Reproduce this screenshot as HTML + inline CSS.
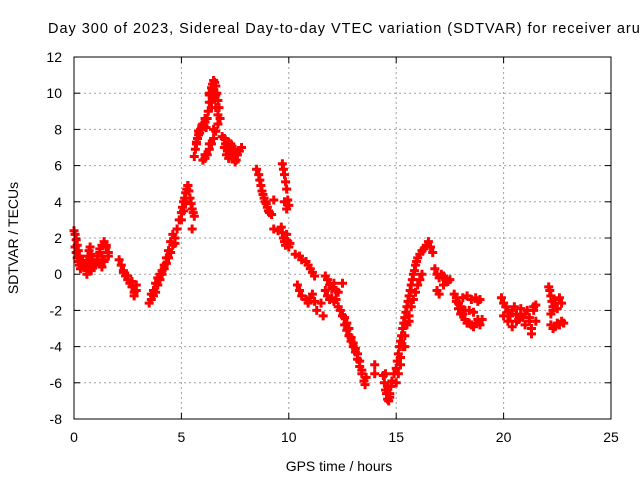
<!DOCTYPE html>
<html><head><meta charset="utf-8"><style>
html,body{margin:0;padding:0;background:#fff}
svg{display:block}
text{font-family:"Liberation Sans",sans-serif;font-size:14px;fill:#000}
</style></head><body>
<svg id="chart" width="640" height="480">
<text x="48" y="33" textLength="600" lengthAdjust="spacing" style="font-size:14.5px">Day 300 of 2023, Sidereal Day-to-day VTEC variation (SDTVAR) for receiver aruc</text>
<text x="339" y="471" text-anchor="middle">GPS time / hours</text>
<text transform="translate(18,238) rotate(-90)" text-anchor="middle">SDTVAR / TECUs</text>
<g id="grid"></g>
<g id="ticks"></g>
<g id="marks"></g>
<rect x="74" y="57" width="537" height="362" fill="none" stroke="#000" stroke-width="1"/>
</svg>
<script>
const xTicks=[0,5,10,15,20,25];
const yTicks=[-8,-6,-4,-2,0,2,4,6,8,10,12];
const times=[
0.0,0.05,0.1,0.15,0.2,0.25,0.3,0.05,0.1,0.15,0.2,0.25,0.3,0.35,0.4,0.45,0.5,0.6,
0.55,0.6,0.65,0.7,0.75,0.8,0.85,0.9,0.6,0.7,0.8,0.9,
1.0,1.1,1.2,1.3,1.4,1.5,1.6,1.1,1.2,1.3,1.4,1.5,1.6,1.2,1.3,1.4,
2.1,2.2,2.3,2.4,2.5,2.6,2.7,2.8,2.9,2.3,2.5,2.7,2.8,2.9,
3.5,3.6,3.7,3.8,3.9,4.0,4.1,4.2,4.3,4.4,4.5,4.6,4.7,4.8,3.6,3.7,3.8,3.9,4.0,4.1,4.2,4.3,4.4,4.5,4.6,4.7,
4.9,5.0,5.05,5.1,5.15,5.2,5.25,5.3,5.0,5.1,5.2,5.5,
5.3,5.35,5.4,5.45,5.5,5.55,5.6,
5.6,5.65,5.7,5.75,5.8,5.85,5.9,5.95,6.0,6.05,6.1,6.15,6.2,5.7,5.8,5.9,6.0,6.1,
6.25,6.3,6.35,6.4,6.45,6.5,6.55,6.6,6.65,6.7,6.75,6.3,6.4,6.5,6.6,6.7,6.3,6.4,6.5,6.6,
6.0,6.1,6.2,6.3,6.4,6.5,6.6,6.7,6.8,6.1,6.3,6.5,
6.9,7.0,7.05,7.1,7.15,7.2,7.25,7.3,7.35,7.4,7.45,7.5,7.55,7.6,7.7,7.8,7.0,7.1,7.2,7.3,7.4,7.5,7.6,
8.5,8.6,8.65,8.7,8.75,8.8,8.85,8.9,8.95,9.0,9.05,9.1,9.2,9.3,9.5,9.3,
9.7,9.75,9.8,9.85,9.9,9.95,10.0,9.8,9.9,9.65,9.7,9.75,9.8,9.85,9.9,9.95,10.0,10.05,
10.3,10.5,10.6,10.8,10.9,11.0,11.1,11.2,10.4,10.5,10.6,10.8,10.9,11.0,11.1,11.2,11.3,
11.5,11.6,11.7,11.8,11.9,12.0,12.1,12.2,12.3,11.8,11.9,12.0,12.1,12.2,12.5,11.7,12.3,
12.4,12.5,12.6,12.7,12.8,12.9,13.0,13.1,13.2,13.3,13.4,13.5,13.55,13.6,12.6,12.7,12.8,12.9,13.0,13.1,13.2,13.3,13.4,14.0,14.0,
14.4,14.45,14.5,14.55,14.6,14.65,14.7,14.75,14.5,14.6,14.7,14.8,
14.9,15.0,15.05,15.1,15.15,15.2,15.25,15.3,15.35,15.4,15.45,15.5,15.55,15.6,15.65,15.7,15.75,15.8,15.85,15.9,15.95,16.0,16.1,16.2,16.3,16.4,16.5,16.6,16.7,
15.0,15.1,15.2,15.3,15.4,15.5,15.6,15.7,15.8,15.9,16.0,16.1,16.2,15.2,15.4,15.6,
16.8,16.9,17.0,17.1,17.2,17.4,17.5,16.9,17.0,17.2,17.3,
17.7,17.8,17.9,18.0,18.1,18.2,18.3,18.4,18.5,18.6,18.7,18.8,18.9,19.0,17.8,17.9,18.0,18.1,18.3,18.5,18.7,18.8,18.9,18.0,18.2,18.4,18.6,
19.9,20.0,20.1,20.2,20.3,20.4,20.5,20.6,20.7,20.8,20.9,21.0,21.1,21.2,21.3,21.4,21.5,20.0,20.2,20.4,20.6,20.8,21.0,21.2,21.4,21.3,21.5,
22.1,22.15,22.2,22.25,22.3,22.35,22.4,22.5,22.6,22.7,22.2,22.3,22.4,22.5,22.6,22.7,22.8,22.2,22.3
];
const values=[
2.4,2.2,1.9,1.6,1.3,1.0,0.7,1.5,1.2,0.9,0.7,0.5,0.3,0.5,0.7,0.4,0.6,0.2,
0.4,0.7,1.0,1.3,1.5,1.1,0.8,0.5,0.0,0.3,0.2,0.6,
0.5,0.8,1.2,1.6,1.8,1.5,1.2,1.0,1.4,1.0,0.8,1.6,1.0,0.6,0.4,0.7,
0.8,0.5,0.2,-0.1,-0.3,-0.5,-0.7,-1.0,-0.6,0.1,-0.1,-0.4,-1.2,-0.9,
-1.6,-1.4,-1.2,-1.0,-0.6,-0.3,0.0,0.3,0.6,0.9,1.2,1.6,2.0,2.5,-1.1,-0.9,-0.5,-0.2,0.0,0.2,0.5,0.9,1.3,1.8,2.2,1.7,
3.0,3.4,3.7,4.0,4.2,4.5,4.7,4.9,3.0,3.5,4.0,2.5,
4.9,4.6,4.2,3.9,3.6,3.4,3.2,
6.5,6.9,7.2,7.5,7.7,7.8,8.0,8.2,8.3,8.2,8.4,8.1,8.6,7.3,7.9,8.0,8.3,8.6,
9.0,9.5,9.9,10.3,10.5,10.7,10.6,10.4,10.0,9.6,9.2,9.9,9.5,9.8,9.2,8.8,10.0,9.2,10.2,9.9,
6.3,6.4,6.6,6.9,7.2,7.5,7.9,8.3,8.6,6.6,7.2,8.0,
7.6,7.5,7.2,7.0,6.8,7.3,6.9,7.1,6.5,6.8,6.5,6.9,6.3,6.6,6.8,7.0,7.0,6.6,6.4,7.2,6.9,6.2,6.6,
5.8,5.5,5.2,4.9,4.6,4.4,4.2,4.0,3.9,3.7,3.5,3.4,3.3,2.5,2.4,4.1,
6.1,5.8,5.5,5.1,4.7,4.1,3.8,4.0,3.6,2.6,2.3,2.0,1.8,1.6,2.2,1.8,1.5,1.7,
1.1,1.0,0.8,0.7,0.5,0.3,0.1,-0.1,-0.6,-0.9,-1.2,-1.4,-1.6,-1.3,-1.1,-1.5,-2.0,
-1.6,-2.3,-0.1,-0.3,-0.6,-0.8,-0.5,-0.9,-1.0,-1.2,-1.4,-1.3,-1.5,-1.4,-0.5,-0.9,-1.8,
-2.0,-2.3,-2.8,-3.1,-3.4,-3.7,-4.0,-4.3,-4.7,-5.1,-5.5,-5.9,-6.1,-5.7,-2.4,-2.7,-3.0,-3.5,-3.8,-4.1,-4.4,-4.8,-5.3,-5.0,-5.5,
-5.6,-6.0,-6.4,-6.6,-6.9,-7.0,-6.8,-6.2,-5.5,-6.2,-6.6,-5.9,
-5.5,-5.2,-4.8,-4.4,-4.0,-3.7,-3.4,-3.0,-2.7,-2.4,-2.1,-1.8,-1.5,-1.2,-0.9,-0.6,-0.3,0.0,0.2,0.5,0.7,0.9,1.1,1.3,1.4,1.6,1.8,1.5,1.2,
-6.0,-5.5,-4.6,-4.0,-3.4,-2.8,-2.3,-1.8,-1.4,-1.0,-0.6,-0.3,0.0,-5.0,-4.0,-2.6,
0.3,0.0,-0.2,0.0,-0.1,-0.4,-0.3,-0.9,-1.1,-0.6,-0.3,
-1.1,-1.3,-1.6,-1.9,-2.2,-2.5,-2.7,-2.7,-2.8,-2.9,-2.7,-2.5,-2.8,-2.5,-1.5,-1.9,-2.2,-1.3,-1.2,-1.4,-1.3,-1.5,-1.4,-1.8,-2.0,-2.0,-2.1,
-1.3,-1.6,-1.8,-2.1,-2.3,-2.0,-1.8,-2.2,-2.5,-1.9,-2.4,-2.2,-2.0,-2.6,-3.0,-2.0,-2.6,-2.3,-2.6,-2.9,-2.6,-2.2,-2.8,-2.4,-1.8,-3.3,-1.7,
-0.7,-0.9,-1.2,-1.5,-1.8,-1.4,-1.6,-1.9,-1.3,-1.6,-2.8,-3.0,-2.9,-2.7,-2.8,-2.6,-2.7,-2.2,-2.0
];
const NS='http://www.w3.org/2000/svg';
const X0=74,X1=611,Y0=419,Y1=57,xMin=0,xMax=25,yMin=-8,yMax=12;
function xs(t){return X0+(t-xMin)/(xMax-xMin)*(X1-X0);}
function ys(v){return Y0-(v-yMin)/(yMax-yMin)*(Y0-Y1);}
const grid=document.getElementById('grid'),ticks=document.getElementById('ticks'),marks=document.getElementById('marks');
function line(p,x1,y1,x2,y2,st,w,da){const l=document.createElementNS(NS,'line');l.setAttribute('x1',x1);l.setAttribute('y1',y1);l.setAttribute('x2',x2);l.setAttribute('y2',y2);l.setAttribute('stroke',st);l.setAttribute('stroke-width',w);if(da)l.setAttribute('stroke-dasharray',da);p.appendChild(l);return l;}
xTicks.forEach(t=>{const x=xs(t);
 if(t>xMin&&t<xMax){const g=line(grid,x,Y1,x,Y0,'#a0a0a0',1,'2,3');
 
 }
 line(ticks,x,Y0,x,Y0-6,'#000',1);line(ticks,x,Y1,x,Y1+6,'#000',1);
 const tx=document.createElementNS(NS,'text');tx.setAttribute('x',x);tx.setAttribute('y',Y0+23);tx.setAttribute('text-anchor','middle');tx.textContent=t;
 
 
 ticks.appendChild(tx);});
yTicks.forEach(v=>{const y=ys(v);
 if(v>yMin&&v<yMax){const g=line(grid,X0,y,X1,y,'#a0a0a0',1,'2,3');
 
 }
 line(ticks,X0,y,X0+6,y,'#000',1);line(ticks,X1,y,X1-6,y,'#000',1);
 const tx=document.createElementNS(NS,'text');tx.setAttribute('x',X0-12);tx.setAttribute('y',y+5);tx.setAttribute('text-anchor','end');tx.textContent=v;
 
 
 ticks.appendChild(tx);});
for(let i=0;i<times.length;i++){
 const x=xs(times[i]),y=ys(values[i]);
 const p=document.createElementNS(NS,'path');
 p.setAttribute('d',`M${x-4.5} ${y}H${x+4.5}M${x} ${y-4.5}V${y+4.5}`);
 p.setAttribute('stroke','#ff0000');p.setAttribute('stroke-width','3');p.setAttribute('fill','none');
 
 
 marks.appendChild(p);
}
</script>
</body></html>
